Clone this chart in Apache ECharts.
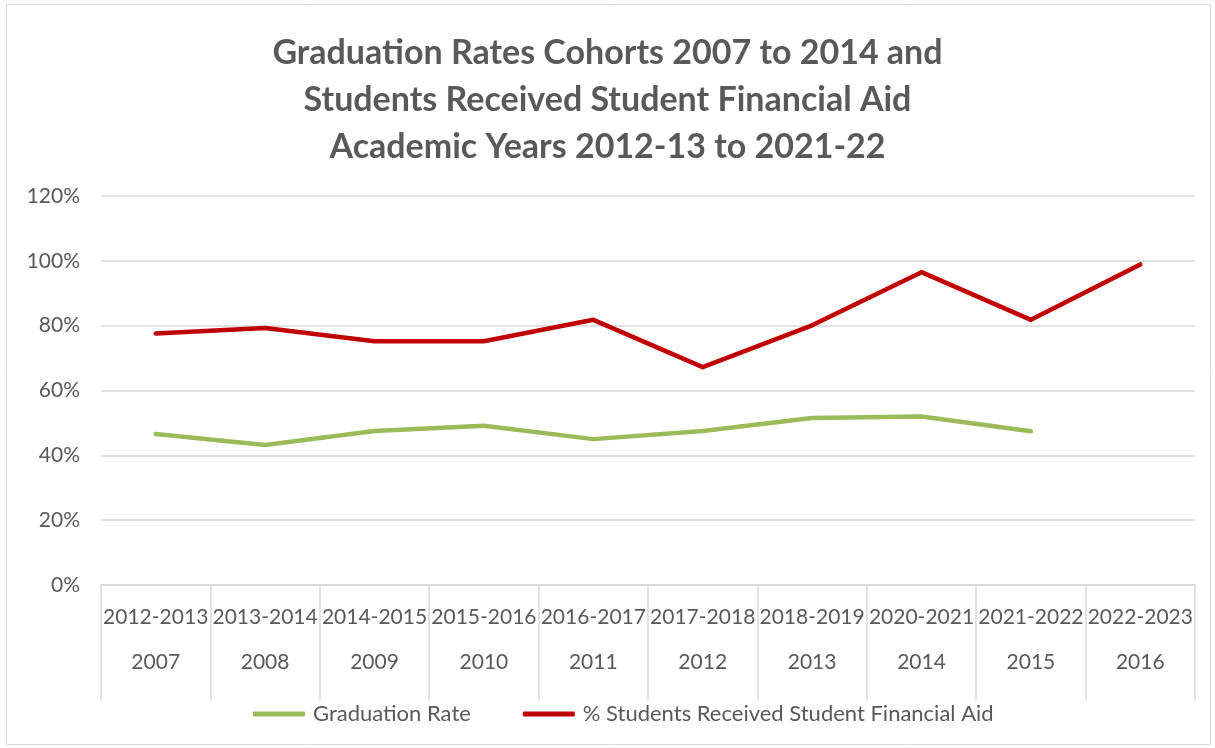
<!DOCTYPE html>
<html>
<head>
<meta charset="utf-8">
<script src="https://cdn.jsdelivr.net/npm/echarts@6/dist/echarts.min.js"></script>
<style>html,body{margin:0;padding:0;background:#fff;}#c{width:1215px;height:748px;}</style>
</head>
<body>
<div id="c"></div>
<script>
const academicYears = ['2012-2013','2013-2014','2014-2015','2015-2016','2016-2017','2017-2018','2018-2019','2020-2021','2021-2022','2022-2023'];
const cohorts = ['2007','2008','2009','2010','2011','2012','2013','2014','2015','2016'];
const graduationRate = [46.6, 43.2, 47.5, 49.1, 45.0, 47.5, 51.5, 52.0, 47.4, null];
const financialAid = [77.6, 79.3, 75.2, 75.2, 81.8, 67.2, 80.1, 96.5, 81.8, 98.9];
const yTicks = [0, 20, 40, 60, 80, 100, 120];

const categories = academicYears.map((a, i) => a + '|' + cohorts[i]);
const FONT = 'Lato';
const GREY = '#595959';

const chart = echarts.init(document.getElementById('c'));
chart.setOption({
  animation: false,
  backgroundColor: '#fff',
  graphic: [{
    type: 'rect', silent: true,
    shape: { x: 6.5, y: 4.5, width: 1204, height: 740 },
    style: { fill: 'none', stroke: '#d9d9d9', lineWidth: 1 }
  }],
  title: {
    text: 'Graduation Rates Cohorts 2007 to 2014 and\nStudents Received Student Financial Aid\nAcademic Years 2012-13 to 2021-22',
    left: 'center', top: 25,
    textStyle: { fontFamily: FONT, fontWeight: 'bold', fontSize: 34, color: GREY, lineHeight: 47 }
  },
  legend: {
    bottom: 18, left: 248,
    icon: 'roundRect', itemWidth: 52, itemHeight: 5, itemGap: 52,
    textStyle: { fontFamily: FONT, fontSize: 22, color: GREY, padding: [0, 0, 0, 3] },
    data: ['Graduation Rate', '% Students Received Student Financial Aid']
  },
  grid: { left: 101, right: 20, top: 196, bottom: 163, containLabel: false },
  xAxis: {
    type: 'category', data: categories, boundaryGap: true,
    axisLine: { show: true, lineStyle: { color: '#d9d9d9', width: 1.5 } },
    axisTick: { show: true, length: 115, interval: 0, lineStyle: { color: '#d9d9d9', width: 1.5 } },
    axisLabel: {
      interval: 0, margin: 10,
      formatter: v => { const p = v.split('|'); return '{a|' + p[0] + '}\n{b|' + p[1] + '}'; },
      rich: {
        a: { fontFamily: FONT, fontSize: 21, color: GREY, lineHeight: 45 },
        b: { fontFamily: FONT, fontSize: 21, color: GREY, lineHeight: 45 }
      }
    }
  },
  yAxis: {
    type: 'value', min: yTicks[0], max: yTicks[yTicks.length - 1], interval: 20,
    axisLine: { show: false }, axisTick: { show: false },
    axisLabel: { fontFamily: FONT, fontSize: 21, color: GREY, margin: 21, formatter: v => v + '%' },
    splitLine: { lineStyle: { color: '#d9d9d9', width: 1.5 } }
  },
  series: [
    {
      name: 'Graduation Rate', type: 'line', data: graduationRate,
      symbol: 'none', connectNulls: false,
      lineStyle: { color: '#9BBB59', width: 4.5, cap: 'round', join: 'round' },
      itemStyle: { color: '#9BBB59' }
    },
    {
      name: '% Students Received Student Financial Aid', type: 'line', data: financialAid,
      symbol: 'none',
      lineStyle: { color: '#C00000', width: 4.5, cap: 'round', join: 'round' },
      itemStyle: { color: '#C00000' }
    }
  ]
});
</script>
</body>
</html>
